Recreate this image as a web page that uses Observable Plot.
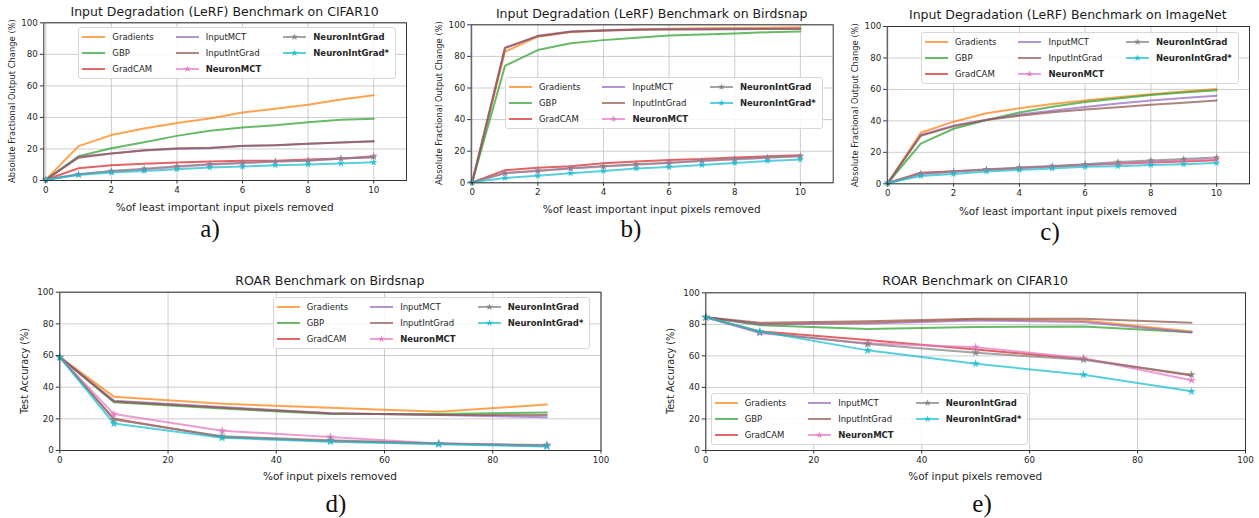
<!DOCTYPE html>
<html>
<head>
<meta charset="utf-8">
<script src="https://cdn.jsdelivr.net/npm/d3@7"></script>
<script src="https://cdn.jsdelivr.net/npm/@observablehq/plot@0.6"></script>
<style>
  html, body { margin: 0; padding: 0; background: #fff; }
  #page { position: relative; width: 1259px; height: 518px; overflow: hidden; background: #fff; font-family: "DejaVu Sans", sans-serif; color: #262626; }
  #page svg.plot { position: absolute; left: 0; top: 0; }
  .lbl { position: absolute; white-space: nowrap; transform: translate(-50%, -50%); line-height: 1; }
  .title { font-size: 12.5px; color: #1a1a1a; }
  .xlab { font-size: 10.5px; }
  .ylab { transform: translate(-50%, -50%) rotate(-90deg); }
  .tag { font-family: "Liberation Serif", serif; font-size: 25px; color: #111; }
  .legend { position: absolute; display: grid; grid-auto-flow: column; grid-template-rows: repeat(3, 16px);
            column-gap: 22px; padding: 1px 6px 1px 3px; border: 1px solid #d6d6d6; border-radius: 3px;
            background: rgba(255,255,255,0.85); font-size: 8.5px; }
  .legend .it { display: flex; align-items: center; height: 16px; }
  .legend .it svg { margin-right: 7px; }
  .legend .b { font-weight: bold; }
</style>
</head>
<body>
<div id="page"></div>
<script>
// ---------- data ----------
const methods = ["Gradients", "GBP", "GradCAM", "InputMCT", "InputIntGrad", "NeuronMCT", "NeuronIntGrad", "NeuronIntGrad*"];
const colors = ["#ff7f0e", "#2ca02c", "#d62728", "#9467bd", "#8c564b", "#e377c2", "#7f7f7f", "#17becf"];
const starred = ["NeuronMCT", "NeuronIntGrad", "NeuronIntGrad*"];
const boldLabels = ["NeuronMCT", "NeuronIntGrad", "NeuronIntGrad*"];

const xLeRF = [0, 1, 2, 3, 4, 5, 6, 7, 8, 9, 10];
const xROAR = [0, 10, 30, 50, 70, 90];
const xTicksLeRF = [0, 2, 4, 6, 8, 10];
const xTicksROAR = [0, 20, 40, 60, 80, 100];
const yTicks = [0, 20, 40, 60, 80, 100];

// rows follow `methods` order
const lerfCifar10 = [
  [0.5, 21.8, 28.8, 33.0, 36.4, 39.3, 43.1, 45.5, 48.0, 51.4, 54.1],
  [0.5, 15.4, 20.5, 24.3, 28.3, 31.5, 33.6, 35.1, 37.0, 38.5, 39.1],
  [0.5, 7.8, 9.7, 10.6, 11.4, 12.0, 12.5, 12.5, 13.3, 14.0, 14.8],
  [0.5, 15.0, 17.1, 19.0, 20.0, 20.5, 22.0, 22.4, 23.3, 24.1, 25.0],
  [0.5, 14.5, 17.1, 19.2, 20.5, 20.8, 21.8, 22.4, 23.3, 24.1, 24.8],
  [0.5, 4.0, 5.8, 7.0, 8.5, 10.0, 11.0, 12.0, 12.7, 13.8, 15.5],
  [0.5, 4.0, 6.0, 7.5, 9.0, 10.3, 11.2, 12.0, 12.5, 14.0, 15.0],
  [0.5, 3.5, 5.0, 6.0, 7.2, 8.2, 8.8, 9.7, 10.2, 10.8, 11.5]
];
const lerfBirdsnap = [
  [0.3, 83.0, 92.5, 95.5, 96.5, 97.0, 97.5, 97.8, 98.0, 98.2, 98.5],
  [0.3, 74.0, 84.0, 88.3, 90.3, 91.8, 93.2, 93.9, 94.5, 95.3, 95.8],
  [0.3, 8.0, 9.5, 10.5, 12.3, 13.5, 14.5, 15.0, 16.0, 16.8, 17.5],
  [0.3, 85.5, 93.0, 95.8, 96.5, 97.0, 97.2, 97.3, 97.4, 97.5, 97.6],
  [0.3, 85.3, 92.8, 95.6, 96.3, 96.8, 97.0, 97.1, 97.2, 97.3, 97.4],
  [0.3, 6.0, 7.5, 9.0, 10.3, 11.5, 12.5, 13.8, 14.8, 15.8, 16.8],
  [0.3, 6.2, 7.7, 9.2, 10.5, 11.7, 12.7, 14.0, 15.0, 16.0, 17.0],
  [0.3, 3.0, 4.5, 6.0, 7.5, 9.0, 10.0, 11.3, 12.5, 13.8, 14.8]
];
const lerfImageNet = [
  [0.5, 32.5, 39.5, 44.8, 48.0, 50.7, 53.0, 55.0, 57.0, 58.7, 60.3],
  [0.5, 25.5, 35.0, 40.5, 45.3, 49.0, 52.0, 54.3, 56.5, 58.0, 59.5],
  [0.5, 7.0, 8.0, 9.0, 10.0, 11.0, 12.0, 12.8, 13.5, 14.2, 15.0],
  [0.5, 31.0, 37.0, 40.8, 44.0, 46.5, 48.8, 51.0, 53.0, 54.5, 56.0],
  [0.5, 30.5, 36.5, 40.5, 43.2, 45.5, 47.2, 48.7, 50.2, 51.5, 53.0],
  [0.5, 6.0, 7.5, 9.0, 10.0, 11.0, 12.0, 13.0, 13.8, 14.8, 15.8],
  [0.5, 6.5, 7.8, 9.2, 10.3, 11.3, 12.5, 13.8, 14.8, 15.8, 16.8],
  [0.5, 5.0, 6.3, 7.8, 8.8, 9.8, 10.8, 11.2, 12.0, 12.5, 13.2]
];
const roarBirdsnap = [
  [59, 34.0, 29.5, 27.0, 24.5, 29.0],
  [59, 30.5, 26.5, 23.0, 23.0, 24.0],
  [59, 20.0, 8.5, 6.0, 4.5, 3.0],
  [59, 31.5, 27.5, 23.5, 22.5, 21.0],
  [59, 31.0, 27.0, 23.5, 22.5, 22.5],
  [59, 23.0, 12.5, 8.5, 4.5, 3.0],
  [59, 19.5, 9.0, 6.5, 4.5, 3.5],
  [59, 17.0, 8.0, 5.5, 4.0, 2.5]
];
const roarCifar10 = [
  [84.5, 80.0, 81.0, 83.0, 82.5, 75.5],
  [84.5, 79.5, 77.0, 78.3, 78.7, 75.0],
  [84.5, 75.5, 70.0, 64.0, 58.0, 47.5],
  [84.5, 80.0, 80.5, 82.5, 81.5, 74.8],
  [84.5, 81.0, 82.0, 83.5, 83.5, 81.0],
  [84.5, 74.5, 68.0, 65.5, 58.5, 44.5],
  [84.5, 75.0, 67.5, 62.0, 57.5, 48.0],
  [84.5, 75.5, 63.5, 55.0, 48.0, 37.5]
];

const titles = {
  a: "Input Degradation (LeRF) Benchmark on CIFAR10",
  b: "Input Degradation (LeRF) Benchmark on Birdsnap",
  c: "Input Degradation (LeRF) Benchmark on ImageNet",
  d: "ROAR Benchmark on Birdsnap",
  e: "ROAR Benchmark on CIFAR10"
};
const xLabelLeRF = "%of least important input pixels removed";
const xLabelROAR = "%of input pixels removed";
const yLabelLeRF = "Absolute Fractional Output Change (%)";
const yLabelROAR = "Test Accuracy (%)";

// ---------- layout (page pixels) ----------
const W = 1259, H = 518;
const panels = [
  {key: "a", xs: xLeRF, ys: lerfCifar10, xDomain: [-0.06, 11], xTicks: xTicksLeRF, xLabel: xLabelLeRF, yLabel: yLabelLeRF,
   L: 43.3, R: 406, T: 22.3, B: 180, titleY: 12, xLabY: 207, yLabX: 12, yLabSize: 8.4, tag: [210, 228], legend: [78.3, 26.7], r: 2.4},
  {key: "b", xs: xLeRF, ys: lerfBirdsnap, xDomain: [-0.03, 11], xTicks: xTicksLeRF, xLabel: xLabelLeRF, yLabel: yLabelLeRF,
   L: 470.7, R: 832.7, T: 24.3, B: 182.3, titleY: 14, xLabY: 209, yLabX: 439, yLabSize: 8.4, tag: [631, 228], legend: [505, 77.3], r: 2.4},
  {key: "c", xs: xLeRF, ys: lerfImageNet, xDomain: [-0.02, 11], xTicks: xTicksLeRF, xLabel: xLabelLeRF, yLabel: yLabelLeRF,
   L: 886.7, R: 1249, T: 26, B: 183.3, titleY: 15, xLabY: 210.7, yLabX: 855, yLabSize: 8.4, tag: [1050, 231], legend: [921, 31.7], r: 2.4},
  {key: "d", xs: xROAR, ys: roarBirdsnap, xDomain: [0, 100], xTicks: xTicksROAR, xLabel: xLabelROAR, yLabel: yLabelROAR,
   L: 59.3, R: 600.5, T: 291.7, B: 450, titleY: 281, xLabY: 476, yLabX: 25, yLabSize: 9.7, tag: [336, 503], legend: [272.7, 297.3], r: 2.8},
  {key: "e", xs: xROAR, ys: roarCifar10, xDomain: [0, 100], xTicks: xTicksROAR, xLabel: xLabelROAR, yLabel: yLabelROAR,
   L: 705.3, R: 1245, T: 292.3, B: 450, titleY: 281, xLabY: 476, yLabX: 671, yLabSize: 9.7, tag: [982, 503], legend: [710.7, 393.3], r: 2.8}
];

const page = document.getElementById("page");
const colorScale = {domain: methods, range: colors};

function addLabel(text, cls, x, y, extra) {
  const d = document.createElement("div");
  d.className = "lbl " + cls;
  d.textContent = text;
  d.style.left = x + "px";
  d.style.top = y + "px";
  if (extra) Object.assign(d.style, extra);
  page.appendChild(d);
}

function starPath(r) {
  return d3.symbol(d3.symbolStar, Math.PI * r * r)();
}

function addLegend(left, top) {
  const lg = document.createElement("div");
  lg.className = "legend";
  lg.style.left = left + "px";
  lg.style.top = top + "px";
  methods.forEach((m, i) => {
    const it = document.createElement("div");
    it.className = "it";
    const ns = "http://www.w3.org/2000/svg";
    const s = document.createElementNS(ns, "svg");
    s.setAttribute("width", 23); s.setAttribute("height", 10);
    const ln = document.createElementNS(ns, "line");
    ln.setAttribute("x1", 0); ln.setAttribute("x2", 23); ln.setAttribute("y1", 5); ln.setAttribute("y2", 5);
    ln.setAttribute("stroke", colors[i]); ln.setAttribute("stroke-width", 2); ln.setAttribute("stroke-opacity", 0.7);
    s.appendChild(ln);
    if (starred.includes(m)) {
      const p = document.createElementNS(ns, "path");
      p.setAttribute("d", starPath(2.3));
      p.setAttribute("transform", "translate(11.5,5)");
      p.setAttribute("fill", colors[i]); p.setAttribute("fill-opacity", 0.8);
      s.appendChild(p);
    }
    it.appendChild(s);
    const t = document.createElement("span");
    t.textContent = m;
    if (boldLabels.includes(m)) t.className = "b";
    it.appendChild(t);
    lg.appendChild(it);
  });
  page.appendChild(lg);
}

for (const p of panels) {
  const rows = [];
  methods.forEach((m, i) => p.xs.forEach((x, j) => rows.push({method: m, x, y: p.ys[i][j]})));
  const starRows = rows.filter(d => starred.includes(d.method));

  const chart = Plot.plot({
    width: W, height: H,
    marginLeft: p.L, marginRight: W - p.R, marginTop: p.T, marginBottom: H - p.B,
    x: {domain: p.xDomain},
    y: {domain: [0, 100]},
    color: colorScale,
    style: {background: "transparent", fontFamily: "DejaVu Sans", fontSize: "8.7px", color: "#262626", overflow: "visible"},
    marks: [
      Plot.gridX(p.xTicks, {stroke: "#b8b8b8", strokeOpacity: 0.7, strokeWidth: 1}),
      Plot.gridY(yTicks, {stroke: "#b8b8b8", strokeOpacity: 0.7, strokeWidth: 1}),
      Plot.line(rows, {x: "x", y: "y", z: "method", stroke: "method", strokeWidth: 2, strokeOpacity: 0.72}),
      Plot.dot(starRows, {x: "x", y: "y", fill: "method", symbol: "star", r: p.r, fillOpacity: 0.8}),
      Plot.frame({stroke: "#333", strokeWidth: 1}),
      Plot.axisX({ticks: p.xTicks, tickSize: 3.5, tickPadding: 2.5, label: null, stroke: "#333"}),
      Plot.axisY({ticks: yTicks, tickSize: 3.5, tickPadding: 2.5, label: null, stroke: "#333"})
    ]
  });
  chart.classList.add("plot");
  page.appendChild(chart);

  const cx = (p.L + p.R) / 2, cy = (p.T + p.B) / 2;
  addLabel(titles[p.key], "title", cx, p.titleY);
  addLabel(p.xLabel, "xlab", cx, p.xLabY);
  addLabel(p.yLabel, "ylab", p.yLabX, cy, {fontSize: p.yLabSize + "px"});
  addLabel(p.key + ")", "tag", p.tag[0], p.tag[1]);
  addLegend(p.legend[0], p.legend[1]);
}
</script>
</body>
</html>
